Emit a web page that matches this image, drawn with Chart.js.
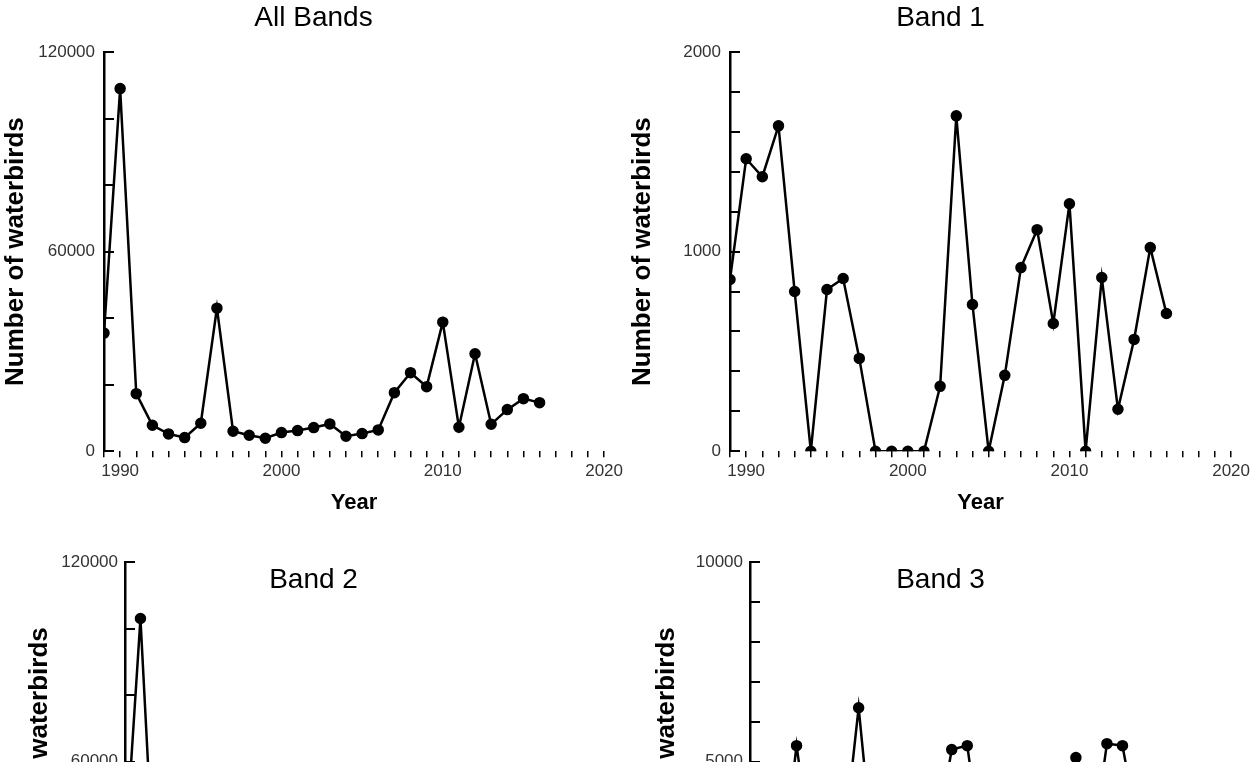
<!DOCTYPE html>
<html>
<head>
<meta charset="utf-8">
<title>Number of waterbirds by band</title>
<script src="https://cdn.jsdelivr.net/npm/chart.js@4.4.1/dist/chart.umd.min.js"></script>
<style>
    html, body { margin: 0; padding: 0; background: #fff; overflow: hidden; }
    #wrap { position: relative; width: 1254px; height: 1040px; }
    .panel { position: absolute; }
    .panel canvas { display: block; }
</style>
</head>
<body>
<div id="wrap">
    <div class="panel" style="left:0;top:0"><canvas id="allChart" width="627" height="520"></canvas></div>
    <div class="panel" style="left:627px;top:0"><canvas id="band1Chart" width="627" height="520"></canvas></div>
    <div class="panel" style="left:0;top:520px"><canvas id="band2Chart" width="627" height="510"></canvas></div>
    <div class="panel" style="left:627px;top:520px"><canvas id="band3Chart" width="627" height="510"></canvas></div>
</div>

<script>

// =====================
// DATA
// =====================

const YEARS = [
    1989, 1990, 1991, 1992, 1993, 1994, 1995, 1996, 1997, 1998,
    1999, 2000, 2001, 2002, 2003, 2004, 2005, 2006, 2007, 2008,
    2009, 2010, 2011, 2012, 2013, 2014, 2015, 2016
];

const ALL_BANDS = [
    35500, 109000, 17300, 7800, 5200, 4100, 8400, 43000, 6000, 4800,
    3900, 5600, 6200, 7100, 8200, 4500, 5300, 6400, 17600, 23600,
    19400, 38800, 7200, 29300, 8100, 12500, 15800, 14600
];

const BAND_1 = [
    860, 1465, 1375, 1630, 800, 0, 810, 865, 465, 0,
    0, 0, 0, 325, 1680, 735, 0, 380, 920, 1110,
    640, 1240, 0, 870, 210, 560, 1020, 690
];

const BAND_2 = [
    31400, 103000, 13800, 800, 1800, 2200, 4800, 35800, 3100, 3100,
    2400, 3400, 3100, 1500, 1100, 1200, 3500, 3700, 12800, 18100,
    15200, 32500, 4500, 23000, 2500, 8600, 10700, 10200
];

const BAND_3 = [
    3200, 4500, 2100, 5400, 2600, 1900, 2800, 6350, 2400, 1700,
    1500, 2200, 3100, 5300, 5400, 2600, 1800, 2300, 3900, 4400,
    3600, 5100, 2700, 5450, 5400, 3300, 4100, 3700
];

// y axis: max, tick step, which ticks get a label
const Y_ALL = [120000, 20000, 60000];
const Y_BAND1 = [2000, 200, 1000];
const Y_BAND2 = [120000, 20000, 60000];
const Y_BAND3 = [10000, 1000, 5000];


Chart.defaults.font.family = '"Liberation Sans", Arial, sans-serif';
Chart.defaults.color = '#000';


// panel title drawn at a fixed height of the canvas
const panelTitle = {
    id: 'panelTitle',
    afterDraw(chart, args, opts) {
        const ctx = chart.ctx;
        ctx.save();
        ctx.font = '28px "Liberation Sans", Arial, sans-serif';
        ctx.fillStyle = '#000';
        ctx.textAlign = 'center';
        ctx.textBaseline = 'middle';
        ctx.fillText(opts.text, chart.width / 2, opts.y);
        ctx.restore();
    }
};


document.addEventListener("DOMContentLoaded", function () {

    makePanel('allChart', 'All Bands', ALL_BANDS, Y_ALL, { top: 52, titleY: 18, axisW: 104, titlePad: 0, labelPad: 19 });
    makePanel('band1Chart', 'Band 1', BAND_1, Y_BAND1, { top: 52, titleY: 18, axisW: 103, titlePad: 0, labelPad: 19 });
    makePanel('band2Chart', 'Band 2', BAND_2, Y_BAND2, { top: 42, titleY: 60, axisW: 125, titlePad: 24, labelPad: 17 });
    makePanel('band3Chart', 'Band 3', BAND_3, Y_BAND3, { top: 42, titleY: 60, axisW: 123, titlePad: 24, labelPad: 17 });

});


// =====================
// PANEL
// =====================

function makePanel(id, title, values, yAxis, o) {

    const points = YEARS.map((yr, i) => ({ x: yr, y: values[i] }));

    new Chart(document.getElementById(id), {
        type: 'line',
        data: {
            datasets: [{
                data: points,
                borderColor: '#000',
                backgroundColor: '#000',
                borderWidth: 2.5,
                pointRadius: 4.5,
                pointHoverRadius: 4.5,
                tension: 0
            }]
        },
        options: {
            responsive: false,
            animation: false,
            layout: { padding: { top: o.top, right: 6, left: 0, bottom: 0 } },
            plugins: {
                legend: { display: false },
                tooltip: { enabled: false },
                panelTitle: { text: title, y: o.titleY }
            },
            scales: {
                x: {
                    type: 'linear',
                    min: 1989,
                    max: 2020,
                    border: { display: false },
                    grid: { drawOnChartArea: false, tickLength: 6, color: '#000', lineWidth: 1.5 },
                    ticks: {
                        stepSize: 1,
                        autoSkip: false,
                        maxRotation: 0,
                        padding: 4,
                        color: '#333',
                        font: { size: 17 },
                        callback: v => (v % 10 === 0 ? String(v) : '')
                    },
                    title: {
                        display: true,
                        text: 'Year',
                        font: { size: 22, weight: 'bold' },
                        padding: { top: 4, bottom: 4 }
                    }
                },
                y: {
                    min: 0,
                    max: yAxis[0],
                    border: { display: true, color: '#000', width: 2.5 },
                    grid: { drawOnChartArea: false, tickLength: -10, color: '#000', lineWidth: 2 },
                    ticks: {
                        stepSize: yAxis[1],
                        autoSkip: false,
                        padding: o.labelPad,
                        color: '#333',
                        font: { size: 17 },
                        callback: v => (v % yAxis[2] === 0 ? String(v) : '')
                    },
                    title: {
                        display: true,
                        text: 'Number of waterbirds',
                        font: { size: 26, weight: 'bold' },
                        padding: { top: o.titlePad, bottom: 0 }
                    },
                    afterFit: s => { s.width = o.axisW; }
                }
            }
        },
        plugins: [panelTitle]
    });

}

</script>
</body>
</html>
